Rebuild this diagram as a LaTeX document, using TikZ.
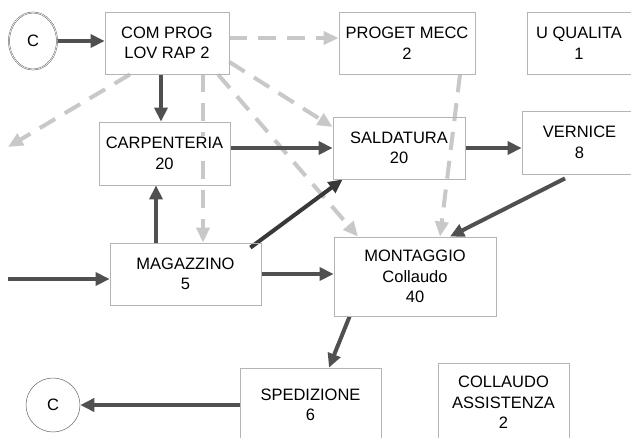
\documentclass[tikz,border=0pt]{standalone}
\usepackage{fontspec}
\setmainfont{Liberation Sans}
\usetikzlibrary{arrows.meta,shapes.geometric}
\pgfdeclarelayer{bg}
\pgfsetlayers{bg,main}
\definecolor{boxgray}{RGB}{180,180,180}
\definecolor{flowdark}{RGB}{80,80,80}
\definecolor{flowlight}{RGB}{200,200,200}
\newcommand{\txtbg}[1]{{\setlength{\fboxsep}{1.5pt}\colorbox{white}{#1}}}
\begin{document}
\begin{tikzpicture}[x=1pt,y=-1pt]
\tikzstyle{every node}+=[inner sep=0pt, align=center, font=\fontsize{16.5}{20.5}\selectfont]
\tikzstyle{box}=[draw=boxgray, line width=0.8pt, rectangle]
\tikzstyle{flow}=[draw=flowdark, line width=4pt, -{Triangle[length=14pt,width=13pt]}]
\tikzstyle{aux}=[draw=flowlight, line width=4pt, dash pattern=on 18pt off 11pt, -{Triangle[length=15pt,width=13pt]}]
\path[use as bounding box, clip] (0,0) rectangle (631,437);
\node [ellipse, draw=black!60, double, line width=0.5pt, minimum width=48, minimum height=57] (cin) at (33,41) {C};
\node [box, minimum width=124, minimum height=62] (com) at (167,43) {\txtbg{COM PROG}\\\txtbg{LOV RAP 2}};
\node [box, minimum width=136, minimum height=62] (pmec) at (407,43) {\txtbg{PROGET MECC}\\\txtbg{2}};
\node [box, minimum width=104, minimum height=62] (uqual) at (579,43) {\txtbg{U QUALITA}\\\txtbg{1}};
\node [box, minimum width=131, minimum height=63] (carp) at (164.5,153.5) {\txtbg{CARPENTERIA}\\\txtbg{20}};
\node [box, minimum width=132, minimum height=62] (sald) at (399,148) {\txtbg{SALDATURA}\\\txtbg{20}};
\node [box, minimum width=115, minimum height=63] (vern) at (579.5,142.5) {\txtbg{VERNICE}\\\txtbg{8}};
\node [box, minimum width=151, minimum height=62] (magaz) at (185.5,274) {\txtbg{MAGAZZINO}\\\txtbg{5}};
\node [box, minimum width=162, minimum height=79] (mont) at (415,276.5) {\txtbg{MONTAGGIO}\\\txtbg{Collaudo}\\\txtbg{40}};
\node [box, minimum width=141, minimum height=74] (sped) at (310.5,405) {\txtbg{SPEDIZIONE}\\\txtbg{6}};
\node [box, minimum width=131, minimum height=79] (coll) at (503.5,402.5) {\txtbg{COLLAUDO}\\\txtbg{ASSISTENZA}\\\txtbg{2}};
\node [circle, draw=black!60, line width=0.5pt, minimum size=54] (cout) at (53,405) {C};
\coordinate (lout) at (8,147);
\coordinate (lin) at (8,279);
\begin{pgfonlayer}{bg}
\fill[white] (0,0) rectangle (631,437);
\draw [aux] ([yshift=5]com.east) -- ([yshift=5]pmec.west);
\draw [aux] ([xshift=-37]com.south) -- (lout);
\draw [aux] ([xshift=36]com.south) -- ([xshift=36]com.south |- magaz.north);
\draw [aux] ([yshift=-19]com.east) -- ([yshift=21]sald.west);
\draw [aux] ([xshift=51]com.south) -- ([xshift=-57]mont.north);
\draw [aux] ([xshift=53]pmec.south) -- ([xshift=25]mont.north);
\draw [flow] (cin.east) -- (cin.east -| com.west);
\draw [flow] ([xshift=-6]com.south) -- ([xshift=-6]com.south |- carp.north);
\draw [flow] (sald.west -| carp.east) -- (sald.west);
\draw [flow] (sald.east) -- (sald.east -| vern.west);
\draw [flow] ([xshift=-14.5,yshift=-4]vern.south) -- ([xshift=35]mont.north);
\draw [flow] ([xshift=-29.5]magaz.north) -- ([xshift=-29.5]magaz.north |- carp.south);
\draw [flow, draw=flowdark!70!black] ([xshift=-11,yshift=-5]magaz.north east) -- ([xshift=10]sald.south west);
\draw [flow] (magaz.east) -- (magaz.east -| mont.west);
\draw [flow] (lin) -- (lin -| magaz.west);
\draw [flow] ([xshift=16]mont.south west) -- ([xshift=18.5]sped.north);
\draw [flow] (sped.west) -- (cout.east);
\end{pgfonlayer}
\end{tikzpicture}
\end{document}
